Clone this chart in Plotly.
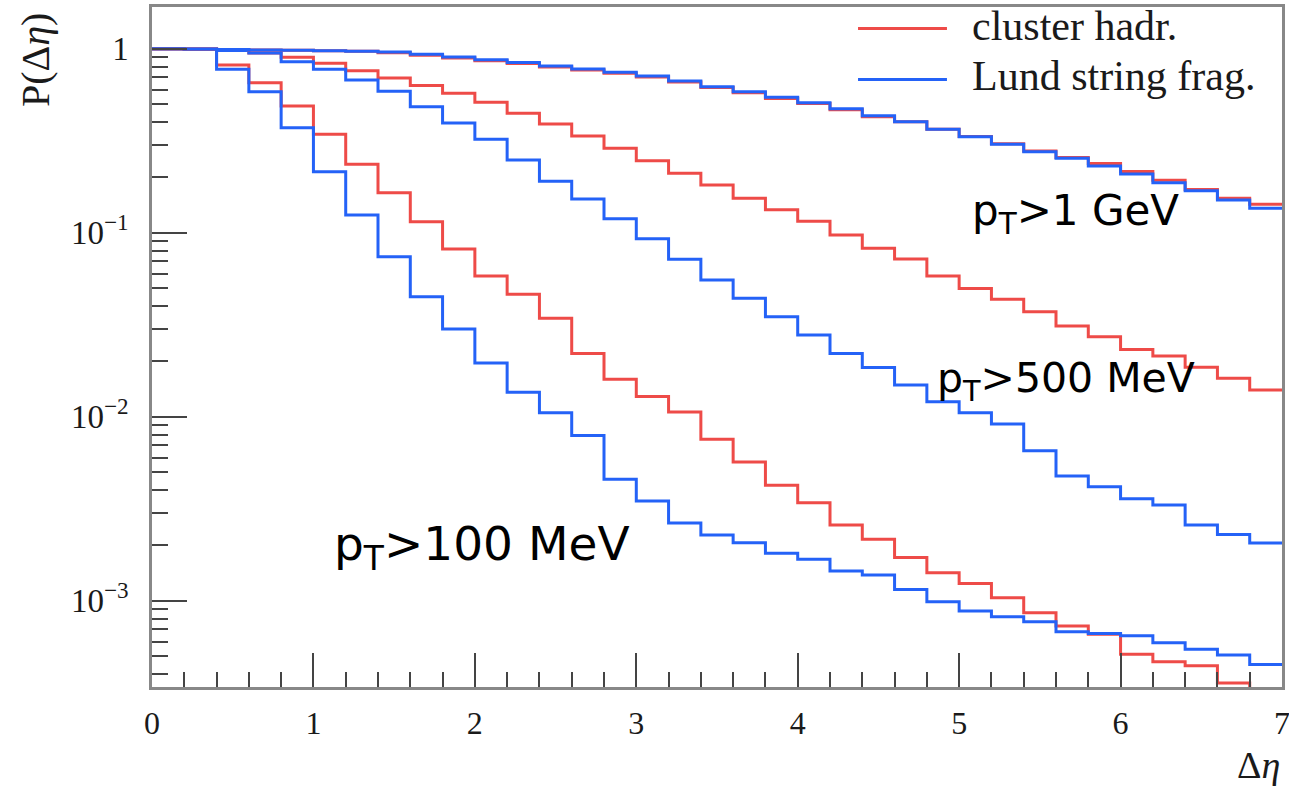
import plotly.graph_objects as go

# ---- data ----
bin_edges = [round(0.2 * i, 1) for i in range(36)]  # 35 bins of width 0.2 on 0..7

cluster_1gev = [1.000, 0.996, 0.990, 0.984, 0.980, 0.975, 0.969, 0.950, 0.921, 0.890,
                0.860, 0.831, 0.795, 0.767, 0.735, 0.702, 0.660, 0.615, 0.577, 0.537,
                0.503, 0.466, 0.427, 0.401, 0.365, 0.333, 0.304, 0.278, 0.256, 0.238,
                0.215, 0.193, 0.172, 0.154, 0.143]
lund_1gev = [1.000, 0.996, 0.990, 0.984, 0.980, 0.975, 0.969, 0.960, 0.932, 0.901,
             0.870, 0.841, 0.805, 0.776, 0.744, 0.711, 0.668, 0.622, 0.584, 0.544,
             0.509, 0.472, 0.432, 0.401, 0.365, 0.332, 0.303, 0.2755, 0.2537, 0.2304,
             0.2085, 0.1870, 0.1691, 0.1505, 0.1357]

cluster_500 = [1.000, 0.996, 0.978, 0.948, 0.898, 0.833, 0.759, 0.693, 0.631, 0.572,
               0.512, 0.4456, 0.3898, 0.3354, 0.2875, 0.2461, 0.2103, 0.1816, 0.1538, 0.1334,
               0.1153, 0.0972, 0.0823, 0.0720, 0.0582, 0.0498, 0.0435, 0.0372, 0.0311, 0.0272,
               0.0232, 0.0214, 0.01856, 0.01617, 0.01397]
lund_500 = [1.000, 0.996, 0.978, 0.948, 0.850, 0.773, 0.676, 0.5875, 0.484, 0.3947,
            0.3218, 0.2483, 0.1903, 0.1525, 0.1191, 0.0927, 0.0717, 0.0553, 0.0440, 0.0350,
            0.0278, 0.0221, 0.0185, 0.01487, 0.01206, 0.01051, 0.00913, 0.00654, 0.00476, 0.00416,
            0.00358, 0.00331, 0.00258, 0.00229, 0.00206]

cluster_100 = [1.000, 0.990, 0.815, 0.653, 0.488, 0.3425, 0.2353, 0.1650, 0.1147, 0.0815,
               0.0582, 0.0463, 0.0343, 0.0221, 0.01597, 0.01288, 0.01060, 0.00754, 0.00567, 0.00425,
               0.00341, 0.00258, 0.00216, 0.00172, 0.00142, 0.00124, 0.00104, 0.000861, 0.000729, 0.000657,
               0.000513, 0.000466, 0.000443, 0.000358, 0.000300]
lund_100 = [1.000, 0.990, 0.773, 0.584, 0.372, 0.2146, 0.1248, 0.0741, 0.0449, 0.0300,
            0.01958, 0.01357, 0.01051, 0.00790, 0.00457, 0.00348, 0.00265, 0.00228, 0.00207, 0.00181,
            0.00168, 0.00145, 0.00138, 0.00115, 0.000988, 0.000879, 0.000818, 0.000769, 0.000679, 0.000665,
            0.000645, 0.000591, 0.000546, 0.000507, 0.000451]

x_ticks = [0, 1, 2, 3, 4, 5, 6, 7]
y_ticks = [0.001, 0.01, 0.1, 1]
y_ticktext = ["10<sup>\u22123</sup>", "10<sup>\u22122</sup>", "10<sup>\u22121</sup>", "1"]
legend_labels = ["cluster hadr.", "Lund string frag."]
cut_labels = ["p<sub>T</sub>>1 GeV", "p<sub>T</sub>>500 MeV", "p<sub>T</sub>>100 MeV"]

RED = "#ee4b48"
BLUE = "#2462f7"
SERIF = "Liberation Serif, Times New Roman, serif"
SANS = "DejaVu Sans, Verdana, sans-serif"

fig = go.Figure()

def step(vals, color):
    fig.add_trace(go.Scatter(
        x=bin_edges, y=vals + [vals[-1]], mode="lines",
        line=dict(color=color, width=3, shape="hv"),
        showlegend=False, hoverinfo="skip"))

for red, blue in [(cluster_100, lund_100), (cluster_500, lund_500), (cluster_1gev, lund_1gev)]:
    step(red, RED)
    step(blue, BLUE)

minor_y = [m * 10 ** e for e in (-4, -3, -2, -1, 0) for m in range(2, 10)]

fig.update_xaxes(
    range=[0, 7], tickmode="array", tickvals=x_ticks,
    ticks="inside", ticklen=34, tickwidth=2, tickcolor="#444",
    minor=dict(dtick=0.2, ticks="inside", ticklen=15, tickwidth=1.6, tickcolor="#444"),
    showline=True, mirror=True, linecolor="#888", linewidth=2.5,
    showgrid=False, zeroline=False, automargin=False,
    tickfont=dict(family=SERIF, size=32, color="#1a1a1a"),
    ticklabelstandoff=6, ticklabeloverflow="allow",
)
fig.update_yaxes(
    type="log", range=[-3.4685, 0.2266],
    tickmode="array", tickvals=y_ticks, ticktext=y_ticktext,
    ticks="inside", ticklen=35, tickwidth=2, tickcolor="#444",
    minor=dict(tickmode="array", tickvals=minor_y, ticks="inside", ticklen=16, tickwidth=1.6, tickcolor="#444"),
    showline=True, mirror=True, linecolor="#888", linewidth=2.5,
    showgrid=False, zeroline=False, automargin=False,
    tickfont=dict(family=SERIF, size=33, color="#1a1a1a"),
    ticklabelstandoff=14, ticklabeloverflow="allow",
)

annotations = [
    dict(text="\u0394<i>\u03b7</i>", x=1.0, y=-0.114, xref="paper", yref="paper",
         xanchor="right", yanchor="middle", showarrow=False,
         font=dict(family=SERIF, size=38, color="#1a1a1a")),
    dict(text="P(\u0394<i>\u03b7</i>)", x=-0.1035, y=0.922, xref="paper", yref="paper",
         xanchor="center", yanchor="middle", textangle=-90, showarrow=False,
         font=dict(family=SERIF, size=40, color="#1a1a1a")),
    dict(text=cut_labels[0], x=0.7235, y=0.697, xref="paper", yref="paper",
         xanchor="left", yanchor="middle", showarrow=False,
         font=dict(family=SANS, size=42, color="black")),
    dict(text=cut_labels[1], x=0.693, y=0.45, xref="paper", yref="paper",
         xanchor="left", yanchor="middle", showarrow=False,
         font=dict(family=SANS, size=41, color="black")),
    dict(text=cut_labels[2], x=0.1595, y=0.206, xref="paper", yref="paper",
         xanchor="left", yanchor="middle", showarrow=False,
         font=dict(family=SANS, size=47, color="black")),
    dict(text=legend_labels[0], x=0.7239, y=0.972, xref="paper", yref="paper",
         xanchor="left", yanchor="middle", showarrow=False,
         font=dict(family=SERIF, size=42, color="#1a1a1a")),
    dict(text=legend_labels[1], x=0.7239, y=0.898, xref="paper", yref="paper",
         xanchor="left", yanchor="middle", showarrow=False,
         font=dict(family=SERIF, size=42, color="#1a1a1a")),
]

shapes = [
    dict(type="line", xref="paper", yref="paper", x0=0.6248, x1=0.7035, y0=0.9685, y1=0.9685,
         line=dict(color=RED, width=3)),
    dict(type="line", xref="paper", yref="paper", x0=0.6248, x1=0.7035, y0=0.8935, y1=0.8935,
         line=dict(color=BLUE, width=3)),
]

fig.update_layout(
    width=1289, height=789,
    margin=dict(l=152, r=7, t=7, b=102, autoexpand=False),
    paper_bgcolor="white", plot_bgcolor="white",
    annotations=annotations, shapes=shapes,
    showlegend=False,
)

fig.write_html(
    "out.html",
    config={"displayModeBar": False, "responsive": False},
    post_script="document.body.style.margin='0px';document.body.style.overflow='hidden';",
)
